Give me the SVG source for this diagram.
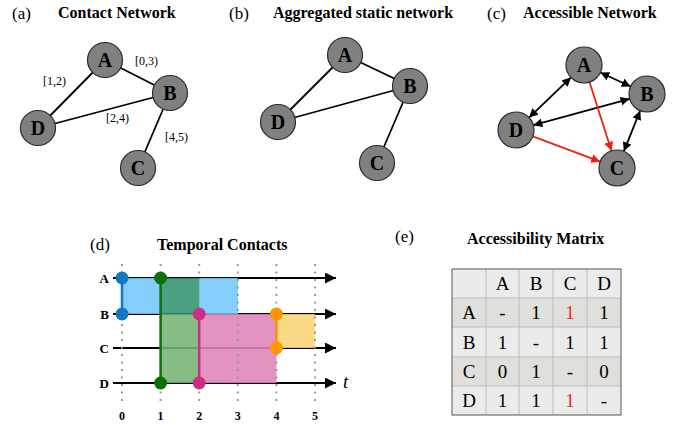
<svg xmlns="http://www.w3.org/2000/svg" width="677" height="425" viewBox="0 0 677 425" font-family="'Liberation Serif', 'DejaVu Serif', serif">
  <style>
    text { font-family: "Liberation Serif", "DejaVu Serif", serif; fill: #000; }
    .tag { font-size: 17px; }
    .title { font-size: 16px; font-weight: bold; }
    .node circle { fill: #808080; stroke: #2b2b2b; stroke-width: 1.2; }
    .node text { font-size: 20px; font-weight: bold; text-anchor: middle; }
    .edge { stroke: #000; stroke-width: 1.8; fill: none; }
    .lbl { font-size: 12px; }
    .acc { stroke: #000; stroke-width: 1.8; fill: none; marker-start: url(#headB); marker-end: url(#headB); }
    .red { stroke: #ee2211; stroke-width: 1.8; fill: none; marker-end: url(#headR); }
    .grid { stroke: #999; stroke-width: 2; stroke-dasharray: 2 5.5; }
    .tl { stroke: #000; stroke-width: 2.2; marker-end: url(#headT); }
    .rowlab { font-size: 13px; font-weight: bold; text-anchor: end; }
    .tick { font-size: 12px; font-weight: bold; text-anchor: middle; }
    .cell { font-size: 19px; text-anchor: middle; }
    .hot { fill: #e8301e; }
  </style>
  <defs>
    <marker id="headB" viewBox="0 0 10 10" refX="10" refY="5" markerWidth="5" markerHeight="5" orient="auto-start-reverse">
      <path d="M0,0 L10,5 L0,10 z" fill="#000"/>
    </marker>
    <marker id="headR" viewBox="0 0 10 10" refX="10" refY="5" markerWidth="5" markerHeight="5" orient="auto">
      <path d="M0,0 L10,5 L0,10 z" fill="#ee2211"/>
    </marker>
    <marker id="headT" viewBox="0 0 10 10" refX="10" refY="5" markerWidth="5" markerHeight="5" orient="auto">
      <path d="M0,0 L10,5 L0,10 z" fill="#000"/>
    </marker>
  </defs>

  <!-- (a) Contact network -->
  <text class="tag" x="12" y="19">(a)</text>
  <text class="title" x="58" y="18">Contact Network</text>
  <g id="edges-a">
    <line class="edge" x1="105" y1="60" x2="170" y2="93"/>
    <line class="edge" x1="105" y1="60" x2="38" y2="128"/>
    <line class="edge" x1="38" y1="128" x2="170" y2="93"/>
    <line class="edge" x1="170" y1="93" x2="138" y2="168"/>
    <text class="lbl" x="135" y="65">[0,3)</text>
    <text class="lbl" x="43" y="85">[1,2)</text>
    <text class="lbl" x="106" y="122">[2,4)</text>
    <text class="lbl" x="165" y="141">[4,5)</text>
  </g>
  <g id="a-A" class="node"><circle cx="105" cy="60" r="17.5"/><text x="105" y="67">A</text></g>
  <g id="a-B" class="node"><circle cx="170" cy="93" r="17.5"/><text x="170" y="100">B</text></g>
  <g id="a-D" class="node"><circle cx="38" cy="128" r="17.5"/><text x="38" y="135">D</text></g>
  <g id="a-C" class="node"><circle cx="138" cy="168" r="17.5"/><text x="138" y="175">C</text></g>

  <!-- (b) Aggregated static network -->
  <text class="tag" x="229" y="19">(b)</text>
  <text class="title" x="273" y="18">Aggregated static network</text>
  <g id="edges-b">
    <line class="edge" x1="345" y1="55" x2="410" y2="86"/>
    <line class="edge" x1="345" y1="55" x2="278" y2="122"/>
    <line class="edge" x1="278" y1="122" x2="410" y2="86"/>
    <line class="edge" x1="410" y1="86" x2="377" y2="163"/>
  </g>
  <g id="b-A" class="node"><circle cx="345" cy="55" r="17.5"/><text x="345" y="62">A</text></g>
  <g id="b-B" class="node"><circle cx="410" cy="86" r="17.5"/><text x="410" y="93">B</text></g>
  <g id="b-D" class="node"><circle cx="278" cy="122" r="17.5"/><text x="278" y="129">D</text></g>
  <g id="b-C" class="node"><circle cx="377" cy="163" r="17.5"/><text x="377" y="170">C</text></g>

  <!-- (c) Accessible network -->
  <text class="tag" x="487" y="19">(c)</text>
  <text class="title" x="523" y="18">Accessible Network</text>
  <g id="edges-c">
    <line class="acc" x1="600.3" y1="72.5" x2="630.7" y2="86.5"/>
    <line class="acc" x1="571" y1="77.4" x2="529" y2="117.6"/>
    <line class="acc" x1="533.4" y1="125.2" x2="629.6" y2="98.8"/>
    <line class="acc" x1="640.2" y1="110.7" x2="623.8" y2="151.3"/>
    <line class="red" x1="589.5" y1="82.1" x2="611.5" y2="150.9"/>
    <line class="red" x1="532.8" y1="136.3" x2="600.2" y2="161.7"/>
  </g>
  <g id="c-A" class="node"><circle cx="584" cy="65" r="18"/><text x="584" y="72">A</text></g>
  <g id="c-B" class="node"><circle cx="647" cy="94" r="18"/><text x="647" y="101">B</text></g>
  <g id="c-D" class="node"><circle cx="516" cy="130" r="18"/><text x="516" y="137">D</text></g>
  <g id="c-C" class="node"><circle cx="617" cy="168" r="18"/><text x="617" y="175">C</text></g>

  <!-- (d) Temporal contacts -->
  <text class="tag" x="90" y="250">(d)</text>
  <text class="title" x="157" y="250">Temporal Contacts</text>
  <g id="timeline">
    <!-- time axes -->
    <line class="tl" x1="113" y1="278" x2="336" y2="278"/>
    <line class="tl" x1="113" y1="314" x2="336" y2="314"/>
    <line class="tl" x1="113" y1="348" x2="336" y2="348"/>
    <line class="tl" x1="113" y1="383" x2="336" y2="383"/>
    <!-- accessibility windows -->
    <g opacity="0.88">
      <rect x="122" y="278" width="116" height="36" fill="#74c8fc"/>
      <rect x="160.6" y="278" width="38.6" height="36" fill="#2f9470"/>
      <rect x="160.6" y="314" width="38.6" height="69" fill="#77b374"/>
      <rect x="199.2" y="314" width="77.2" height="69" fill="#e085b9"/>
      <rect x="276.4" y="314" width="38.6" height="34" fill="#fad574"/>
    </g>
    <!-- time grid -->
    <line class="grid" x1="122" y1="264" x2="122" y2="404"/>
    <line class="grid" x1="160.6" y1="264" x2="160.6" y2="404"/>
    <line class="grid" x1="199.2" y1="264" x2="199.2" y2="404"/>
    <line class="grid" x1="237.8" y1="264" x2="237.8" y2="404"/>
    <line class="grid" x1="276.4" y1="264" x2="276.4" y2="404"/>
    <line class="grid" x1="315" y1="264" x2="315" y2="404"/>
    <!-- contacts -->
    <g stroke-width="2.5">
      <line x1="122" y1="278" x2="122" y2="314" stroke="#1577be"/>
      <line x1="160.6" y1="278" x2="160.6" y2="383" stroke="#0d700d"/>
      <line x1="199.2" y1="314" x2="199.2" y2="383" stroke="#cc2e82"/>
      <line x1="276.4" y1="314" x2="276.4" y2="348" stroke="#ff9500"/>
    </g>
    <circle cx="122" cy="278" r="6.5" fill="#1577be"/>
    <circle cx="122" cy="314" r="6.5" fill="#1577be"/>
    <circle cx="160.6" cy="278" r="6.5" fill="#0d700d"/>
    <circle cx="160.6" cy="383" r="6.5" fill="#0d700d"/>
    <circle cx="199.2" cy="314" r="6.5" fill="#cc2e82"/>
    <circle cx="199.2" cy="383" r="6.5" fill="#cc2e82"/>
    <circle cx="276.4" cy="314" r="6.5" fill="#ff9500"/>
    <circle cx="276.4" cy="348" r="6.5" fill="#ff9500"/>
    <!-- labels -->
    <text class="rowlab" x="109" y="283">A</text>
    <text class="rowlab" x="109" y="319">B</text>
    <text class="rowlab" x="109" y="353">C</text>
    <text class="rowlab" x="109" y="388">D</text>
    <text x="343" y="388" font-size="19" font-style="italic">t</text>
    <text class="tick" x="122" y="420">0</text>
    <text class="tick" x="160.6" y="420">1</text>
    <text class="tick" x="199.2" y="420">2</text>
    <text class="tick" x="237.8" y="420">3</text>
    <text class="tick" x="276.4" y="420">4</text>
    <text class="tick" x="315" y="420">5</text>
  </g>

  <!-- (e) Accessibility matrix -->
  <text class="tag" x="395" y="242">(e)</text>
  <text class="title" x="467" y="244">Accessibility Matrix</text>
  <g id="matrix">
    <rect x="452" y="269" width="169" height="29" fill="#ebebeb"/>
    <rect x="452" y="298" width="169" height="29" fill="#e0dfdb"/>
    <rect x="452" y="327" width="169" height="30" fill="#ebebeb"/>
    <rect x="452" y="357" width="169" height="29" fill="#e0dfdb"/>
    <rect x="452" y="386" width="169" height="29" fill="#ebebeb"/>
    <g stroke="#bdbdbd" stroke-width="1">
      <line x1="486" y1="269" x2="486" y2="415"/>
      <line x1="519" y1="269" x2="519" y2="415"/>
      <line x1="553" y1="269" x2="553" y2="415"/>
      <line x1="587" y1="269" x2="587" y2="415"/>
      <line x1="452" y1="298" x2="621" y2="298"/>
      <line x1="452" y1="327" x2="621" y2="327"/>
      <line x1="452" y1="357" x2="621" y2="357"/>
      <line x1="452" y1="386" x2="621" y2="386"/>
    </g>
    <rect x="452" y="269" width="169" height="146" fill="none" stroke="#707070" stroke-width="1.2"/>
    <g class="cells">
      <text class="cell" x="502.5" y="290">A</text>
      <text class="cell" x="536" y="290">B</text>
      <text class="cell" x="570" y="290">C</text>
      <text class="cell" x="604" y="290">D</text>

      <text class="cell" x="469" y="319">A</text>
      <text class="cell" x="502.5" y="319">-</text>
      <text class="cell" x="536" y="319">1</text>
      <text class="cell hot" x="570" y="319">1</text>
      <text class="cell" x="604" y="319">1</text>

      <text class="cell" x="469" y="349">B</text>
      <text class="cell" x="502.5" y="349">1</text>
      <text class="cell" x="536" y="349">-</text>
      <text class="cell" x="570" y="349">1</text>
      <text class="cell" x="604" y="349">1</text>

      <text class="cell" x="469" y="378">C</text>
      <text class="cell" x="502.5" y="378">0</text>
      <text class="cell" x="536" y="378">1</text>
      <text class="cell" x="570" y="378">-</text>
      <text class="cell" x="604" y="378">0</text>

      <text class="cell" x="469" y="407">D</text>
      <text class="cell" x="502.5" y="407">1</text>
      <text class="cell" x="536" y="407">1</text>
      <text class="cell hot" x="570" y="407">1</text>
      <text class="cell" x="604" y="407">-</text>
    </g>
  </g>
</svg>
